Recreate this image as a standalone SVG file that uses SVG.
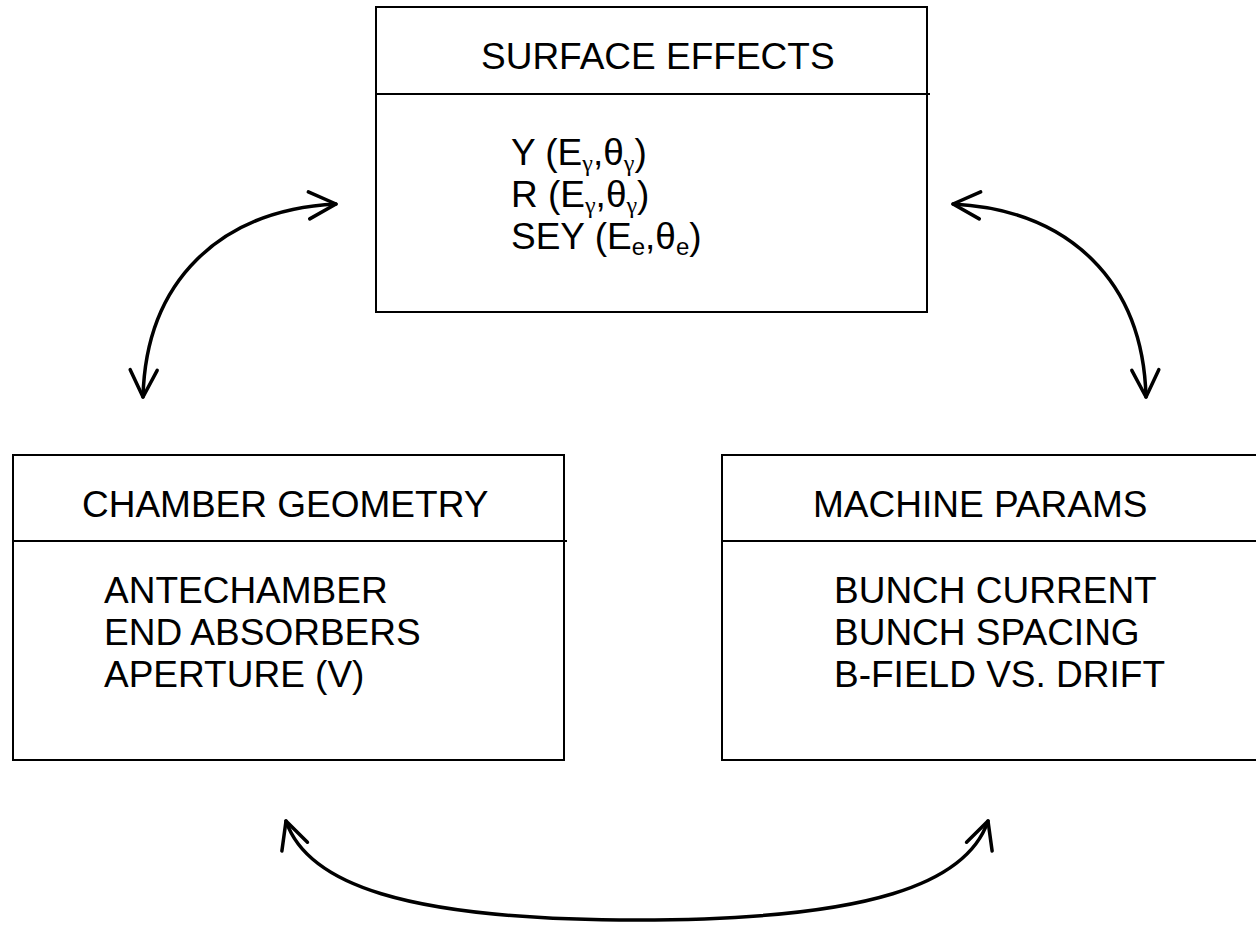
<svg xmlns="http://www.w3.org/2000/svg" width="1256" height="925" viewBox="0 0 1256 925">
  <style>
    .box { fill: none; stroke: #000; stroke-width: 2; }
    .rule { stroke: #000; stroke-width: 2; }
    .t { font-family: "Liberation Sans", Arial, sans-serif; font-size: 37px; fill: #000; }
    .sub { font-size: 24px; }
    .greek { font-family: "Liberation Serif", "Times New Roman", serif; }
    .link { fill: none; stroke: #000; stroke-width: 3.5; stroke-linecap: round;
            marker-start: url(#head); marker-end: url(#head); }
  </style>
  <defs>
    <!-- open V arrowhead, used at both ends of every link -->
    <marker id="head" viewBox="-35 -20 40 40" refX="0" refY="0" markerWidth="40" markerHeight="40"
            markerUnits="userSpaceOnUse" orient="auto-start-reverse" overflow="visible">
      <path d="M-27,-13.5 L0,0 L-27,13.5" fill="none" stroke="#000" stroke-width="3.5"
            stroke-linecap="round" stroke-linejoin="round"/>
    </marker>
  </defs>

  <rect width="1256" height="925" fill="#fff"/>

  <g id="surface-effects">
    <rect class="box" x="376" y="7" width="551" height="305"/>
    <line class="rule" x1="376" y1="94" x2="930" y2="94"/>
    <text class="t" x="481" y="69">SURFACE EFFECTS</text>
    <text class="t" x="511" y="165">Y (E<tspan class="sub greek" dy="6">γ</tspan><tspan dy="-6">,θ</tspan><tspan class="sub greek" dy="6">γ</tspan><tspan dy="-6">)</tspan></text>
    <text class="t" x="511" y="207">R (E<tspan class="sub greek" dy="6">γ</tspan><tspan dy="-6">,θ</tspan><tspan class="sub greek" dy="6">γ</tspan><tspan dy="-6">)</tspan></text>
    <text class="t" x="511" y="249">SEY (E<tspan class="sub" dy="6">e</tspan><tspan dy="-6">,θ</tspan><tspan class="sub" dy="6">e</tspan><tspan dy="-6">)</tspan></text>
  </g>

  <g id="chamber-geometry">
    <rect class="box" x="13" y="455" width="551" height="305"/>
    <line class="rule" x1="13" y1="541" x2="567" y2="541"/>
    <text class="t" x="82" y="517">CHAMBER GEOMETRY</text>
    <text class="t" x="104" y="603">ANTECHAMBER</text>
    <text class="t" x="104" y="645">END ABSORBERS</text>
    <text class="t" x="104" y="687">APERTURE (V)</text>
  </g>

  <g id="machine-params">
    <rect class="box" x="722" y="455" width="551" height="305"/>
    <line class="rule" x1="722" y1="541" x2="1276" y2="541"/>
    <text class="t" x="813" y="517">MACHINE PARAMS</text>
    <text class="t" x="834" y="603">BUNCH CURRENT</text>
    <text class="t" x="834" y="645">BUNCH SPACING</text>
    <text class="t" x="834" y="687">B-FIELD VS. DRIFT</text>
  </g>

  <g id="connectors">
    <path class="link" d="M143,397 C146,281 220,210 336,204"/>
    <path class="link" d="M1146,397 C1143,281 1069,210 953,204"/>
    <path class="link" d="M286,821 C307,883 402,920 637,920 C872,920 967,883 988,821"/>
  </g>
</svg>
